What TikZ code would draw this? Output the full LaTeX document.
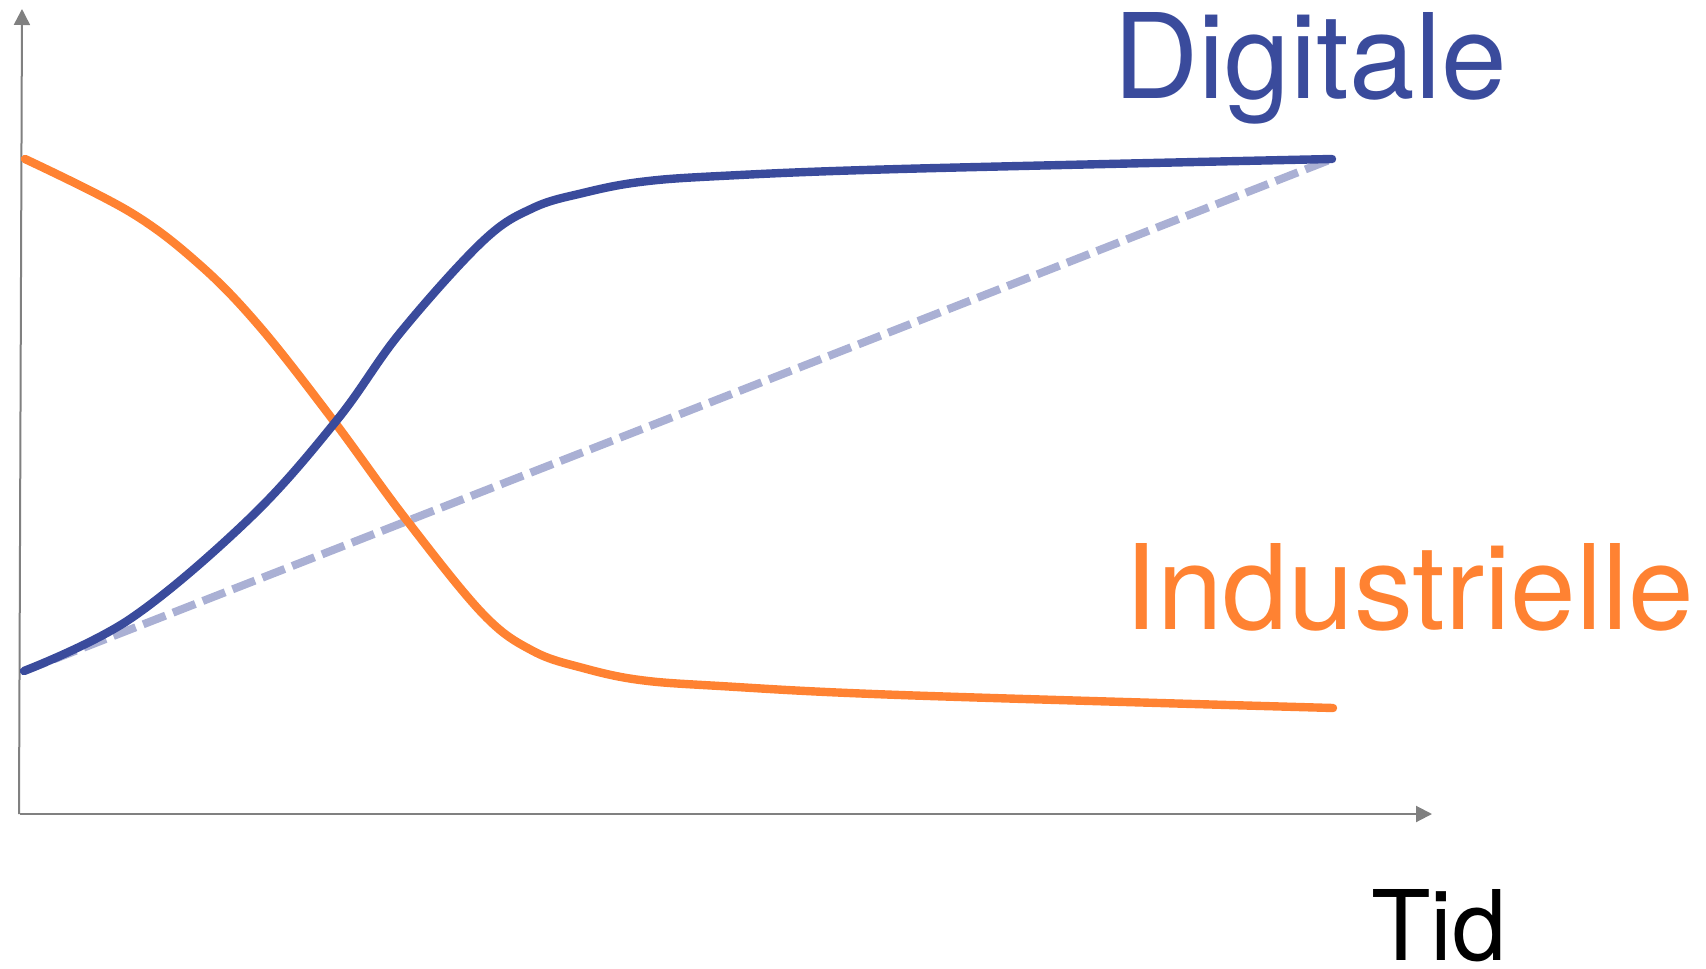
\documentclass[tikz,border=0pt]{standalone}
\usepackage{fontspec}
\setmainfont{TeX Gyre Heros}
\usetikzlibrary{arrows.meta}
\definecolor{digblue}{RGB}{58,75,156}
\definecolor{indorange}{RGB}{255,130,50}
\definecolor{dashblue}{RGB}{170,176,212}
\definecolor{axisgray}{RGB}{128,128,128}
\tikzset{
  axisline/.style={draw=axisgray, line width=1pt, -{Triangle[length=8pt,width=8pt]}},
  curveline/.style={line width=4.2pt, line cap=round, line join=round},
  trendline/.style={draw=dashblue, line width=4pt, dash pattern=on 12pt off 4pt},
  biglabel/.style={inner sep=0pt, anchor=base west, font=\fontsize{59}{60}\selectfont},
}
\begin{document}
\begin{tikzpicture}[x=0.5pt, y=-0.5pt]
\useasboundingbox (0,0) rectangle (1706,968);
% axes
\coordinate (origin) at (19,814);
\coordinate (ytip) at (22,9);
\coordinate (xstart) at (20,814);
\coordinate (xtip) at (1432,814);
\draw[axisline] (origin) -- (ytip);
\draw[axisline] (xstart) -- (xtip);
% trend line
\coordinate (dstart) at (24,671);
\coordinate (dend) at (1332,159);
\draw[trendline] (dstart) -- (dend);
% orange (industrielle)
\draw[curveline, draw=indorange] plot[smooth, tension=0.6] coordinates {
  (25,159) (130,212) (200,265) (260,327) (333,420) (405,518) (483,614)
  (533,651) (583,668) (640,680) (720,686) (900,695) (1333,708)};
% blue (digitale)
\draw[curveline, draw=digblue] plot[smooth, tension=0.6] coordinates {
  (24,671) (130,619) (250,518) (337,420) (400,333) (483,241)
  (533,208) (583,193) (640,182) (720,176) (900,169) (1332,159)};
% labels
\node[biglabel, text=digblue] (dig) at (1113,99) {Digitale};
\node[biglabel, text=indorange] (ind) at (1124,629) {Industrielle};
\node[inner sep=0pt, anchor=base west, font=\fontsize{48.7}{50}\selectfont] (tid) at (1371,960) {Tid};
\end{tikzpicture}
\end{document}
